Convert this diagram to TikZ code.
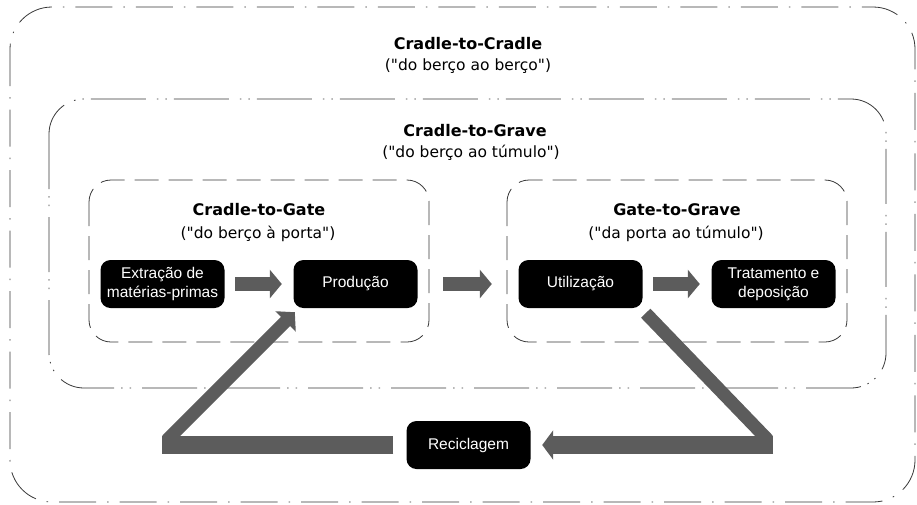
\documentclass[tikz,border=0pt]{standalone}
\usepackage{fontspec}
\setmainfont{Liberation Sans}
\newfontfamily\dejavu{DejaVu Sans}
\usetikzlibrary{arrows.meta, positioning, calc}

\definecolor{framegray}{RGB}{55,55,55}
\definecolor{bargray}{RGB}{92,92,92}

\begin{document}
\begin{tikzpicture}[x=1pt, y=-1pt,
    frame/.style={draw=framegray, line width=0.8pt},
    title/.style={font=\dejavu\bfseries\fontsize{16}{19}\selectfont},
    subtitle/.style={font=\dejavu\fontsize{15.5}{19}\selectfont},
    stage/.style={fill=black, text=white, rounded corners=10pt, minimum width=124pt,
        minimum height=48pt, inner sep=1pt, align=center, font=\fontsize{15.5}{19}\selectfont},
    fat/.style={draw=bargray, line width=14pt, -{Triangle[length=12pt, width=28pt]}},
    bar/.style={draw=bargray, line width=18pt},
    slant/.style={draw=bargray, line width=13pt},
]
    \useasboundingbox (0, 0) rectangle (917, 504);

    % frames
    \draw[frame, rounded corners=42pt, dash pattern=on 37pt off 11pt on 1.5pt off 11pt]
        (10, 7) rectangle (915, 502);
    \draw[frame, rounded corners=35pt, dash pattern=on 55pt off 7pt on 1.5pt off 7pt on 1.5pt off 11pt]
        (49, 99) rectangle (886, 388);
    \draw[frame, rounded corners=22pt, dash pattern=on 24pt off 10pt] (89, 180) rectangle (429, 342);
    \draw[frame, rounded corners=22pt, dash pattern=on 24pt off 10pt] (507, 180) rectangle (847, 342);

    \node[title] (c2c) at (468, 44) {Cradle-to-Cradle};
    \node[subtitle] (c2csub) at (468, 66) {("do berço ao berço")};
    \node[title] (c2gr) at (475, 131) {Cradle-to-Grave};
    \node[subtitle] (c2grsub) at (471, 153) {("do berço ao túmulo")};
    \node[title] (c2ga) at (259, 210) {Cradle-to-Gate};
    \node[subtitle] (c2gasub) at (258, 234) {("do berço à porta")};
    \node[title] (g2g) at (677, 210) {Gate-to-Grave};
    \node[subtitle] (g2gsub) at (676, 234) {("da porta ao túmulo")};

    % stages
    \node[stage] (extr) at (162.5, 284) {Extração de\\matérias-primas};
    \node[stage] (prod) at (355.5, 284) {Produção};
    \node[stage] (util) at (580.5, 284) {Utilização};
    \node[stage] (trat) at (773.5, 284) {Tratamento e\\deposição};
    \node[stage] (recic) at (468.5, 445) {Reciclagem};

    \foreach \a/\b/\s/\e in {extr/prod/10.5/11.5, prod/util/25.5/26.5, util/trat/10.5/11.5}
        \draw[fat, shorten <=\s pt, shorten >=\e pt] (\a.east) -- (\b.west);

    % recycling loop
    \coordinate (rstart) at ($(util.south east)+(3, 5)$);
    \coordinate (rcorner) at (773, 445);
    \coordinate (lcorner) at (162, 445);
    \coordinate (ltip) at ($(prod.south west)+(1.5, 4)$);

    \draw[slant] (rstart) -- ($(rcorner)+(-5, -5)$);
    \draw[slant, -{Triangle[length=13pt, width=28pt]}] ($(lcorner)+(5, -5)$) -- (ltip);
    \draw[bar, -{Triangle[length=11pt, width=29pt]}, shorten >=11.5pt] (rcorner) -- (recic.east);
    \draw[bar, shorten <=13pt] (recic.west) -- (lcorner);

\end{tikzpicture}
\end{document}
